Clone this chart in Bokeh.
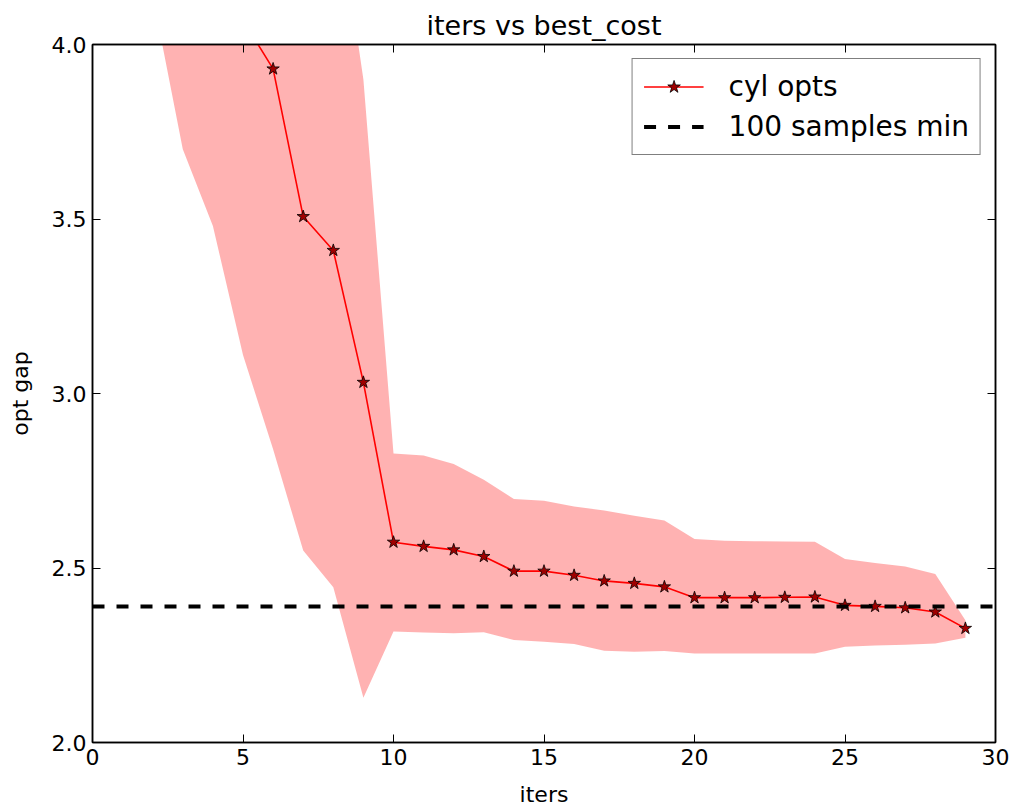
from bokeh.plotting import figure
from bokeh.models import (LinearAxis, FixedTicker, Range1d, Legend, LegendItem,
                          NumeralTickFormatter, CustomLabelingPolicy)
from bokeh.embed import file_html
from bokeh.resources import INLINE

# ---- data ----
iters = list(range(1, 30))
mean_gap = [6.20, 5.40, 4.90, 4.45, 4.07, 3.930, 3.507, 3.410, 3.032, 2.574,
            2.562, 2.552, 2.533, 2.491, 2.491, 2.479, 2.463, 2.456, 2.446, 2.415,
            2.415, 2.415, 2.416, 2.417, 2.393, 2.390, 2.386, 2.374, 2.327]
lower_gap = [4.60, 4.14, 3.70, 3.48, 3.11, 2.84, 2.55, 2.445, 2.128, 2.318,
             2.315, 2.313, 2.316, 2.294, 2.289, 2.282, 2.263, 2.260, 2.262, 2.255,
             2.255, 2.255, 2.255, 2.255, 2.274, 2.278, 2.280, 2.284, 2.300]
upper_gap = [7.60, 7.20, 6.80, 6.30, 5.80, 5.30, 4.90, 4.49, 3.900, 2.828,
             2.822, 2.798, 2.753, 2.698, 2.693, 2.676, 2.665, 2.650, 2.636, 2.583,
             2.578, 2.577, 2.576, 2.575, 2.526, 2.514, 2.504, 2.483, 2.350]
samples_min = 2.39
x_limits = [0, 30]
y_limits = [2.0, 4.0]
x_ticks = [0, 5, 10, 15, 20, 25, 30]
y_ticks = [2.0, 2.5, 3.0, 3.5, 4.0]

FONT = "DejaVu Sans"

p = figure(width=1010, height=810, output_backend="svg", toolbar_location=None,
           x_range=Range1d(*x_limits), y_range=Range1d(*y_limits),
           min_border_left=92, min_border_right=15, min_border_top=44, min_border_bottom=68,
           title="iters vs best_cost")
p.background_fill_color = "white"
p.border_fill_color = "white"
p.grid.visible = False
p.outline_line_color = "black"
p.outline_line_width = 1.5

p.title.align = "center"
p.title.text_font = FONT
p.title.text_font_size = "27px"
p.title.text_font_style = "normal"
p.title.text_color = "black"
p.title.standoff = 0

def style_axis(ax, show_labels=True, label_standoff=6):
    ax.major_tick_in = 8
    ax.major_tick_out = 0
    ax.minor_tick_line_color = None
    ax.major_tick_line_color = "black"
    ax.major_tick_line_width = 1
    ax.axis_line_color = "black"
    ax.axis_line_width = 1.5
    if show_labels:
        ax.major_label_text_font = FONT
        ax.major_label_text_font_size = "22px"
        ax.major_label_text_color = "black"
        ax.major_label_standoff = 6
        ax.axis_label_text_font = FONT
        ax.axis_label_text_font_size = "22px"
        ax.axis_label_text_font_style = "normal"
        ax.axis_label_text_color = "black"
        ax.axis_label_standoff = label_standoff
    else:
        # mirrored ticks only: no tick labels at all
        ax.major_label_policy = CustomLabelingPolicy(
            code="return new indices.constructor(indices.size, 0)")
        ax.major_label_text_font_size = "1px"
        ax.major_label_standoff = 0
        ax.axis_label_standoff = 0

p.xaxis.ticker = FixedTicker(ticks=x_ticks)
p.yaxis.ticker = FixedTicker(ticks=y_ticks)
p.xaxis.formatter = NumeralTickFormatter(format="0")
p.yaxis.formatter = NumeralTickFormatter(format="0.0")
p.xaxis.axis_label = "iters"
p.yaxis.axis_label = "opt gap"
style_axis(p.xaxis[0], label_standoff=14)
style_axis(p.yaxis[0], label_standoff=16)

top_ax = LinearAxis(ticker=FixedTicker(ticks=x_ticks))
right_ax = LinearAxis(ticker=FixedTicker(ticks=y_ticks))
style_axis(top_ax, False)
style_axis(right_ax, False)
p.add_layout(top_ax, "above")
p.add_layout(right_ax, "right")

# band
p.varea(x=iters, y1=lower_gap, y2=upper_gap, fill_color="#ff0000", fill_alpha=0.3)

# mean line with stars
line_r = p.line(iters, mean_gap, line_color="#ff0000", line_width=1.6)
star_r = p.scatter(iters, mean_gap, marker="star", size=13, fill_color="#a00000",
                   line_color="black", line_width=0.8)

# 100 samples min
dash_r = p.line(x_limits, [samples_min, samples_min], line_color="black",
                line_width=4, line_dash="12 12")

legend = Legend(items=[LegendItem(label="cyl opts", renderers=[line_r, star_r]),
                       LegendItem(label="100 samples min", renderers=[dash_r])],
                location="top_right")
legend.margin = 14
legend.padding = 11
legend.spacing = 7
legend.glyph_width = 60
legend.glyph_height = 33
legend.label_height = 33
legend.label_standoff = 25
legend.label_text_font = FONT
legend.label_text_font_size = "28px"
legend.label_text_color = "black"
legend.border_line_color = "black"
legend.border_line_width = 1.5
legend.background_fill_color = "white"
legend.background_fill_alpha = 1.0
p.add_layout(legend)

open("out.html", "w").write(file_html(p, INLINE))
